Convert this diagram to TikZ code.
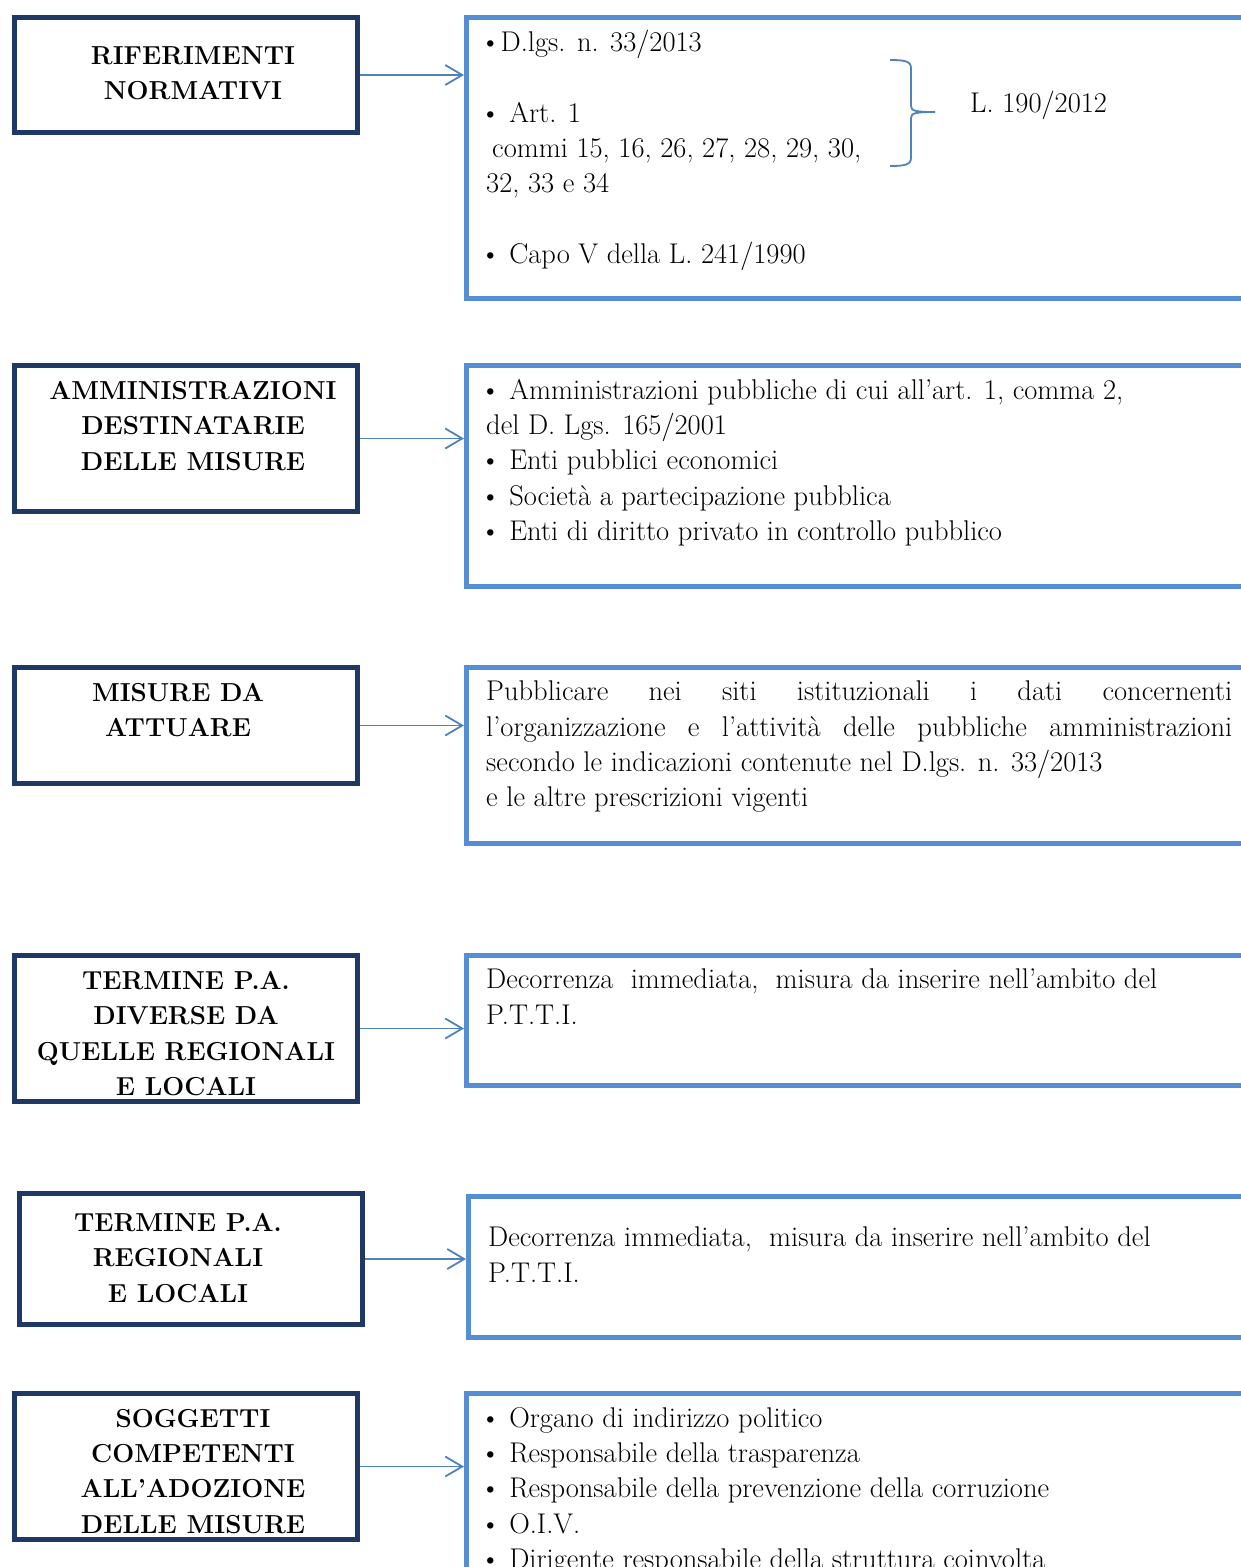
\documentclass[tikz,border=0pt]{standalone}
\usetikzlibrary{arrows.meta,positioning}
\definecolor{navyline}{HTML}{1F3864}
\definecolor{boxblue}{HTML}{558ED5}
\definecolor{linkblue}{HTML}{4F81BD}
\newcommand{\listdot}{\hspace{-6pt}\textbullet}
\begin{document}
\begin{tikzpicture}[x=1pt,y=-1pt,
leftbox/.style={draw=navyline,line width=5pt,anchor=north west,minimum width=343pt,inner sep=0pt},
rightbox/.style={draw=boxblue,line width=5pt,anchor=north west,minimum width=900pt,inner sep=0pt},
title/.style={font=\fontsize{26}{35.3}\selectfont\bfseries,align=center,anchor=north,inner sep=0pt},
body/.style={font=\fontsize{28.5}{35.3}\selectfont,align=left,anchor=north west,inner sep=0pt},
link/.style={draw=linkblue,line width=1.8pt,-{Straight Barb[length=17pt,width=20pt,line width=1.8pt]}}]
\useasboundingbox (0,0) rectangle (1241,1567);
\clip (0,0) rectangle (1241,1567);
\node[leftbox,minimum height=115pt] (l1) at (12,15) {};
\node[leftbox,minimum height=146pt] (l2) at (12,363) {};
\node[leftbox,minimum height=116pt] (l3) at (12,665) {};
\node[leftbox,minimum height=146pt] (l4) at (12,953) {};
\node[leftbox,minimum height=131pt] (l5) at (17,1191) {};
\node[leftbox,minimum height=146pt] (l6) at (12,1391) {};
\node[rightbox,minimum height=281pt] (r1) at (464,15) {};
\node[rightbox,minimum height=221pt] (r2) at (464,363) {};
\node[rightbox,minimum height=176pt] (r3) at (464,665) {};
\node[rightbox,minimum height=130pt] (r4) at (464,953) {};
\node[rightbox,minimum height=141pt] (r5) at (466,1194) {};
\node[rightbox,minimum height=224pt] (r6) at (464,1391) {};
\node[title] (h1) at (193,46) {RIFERIMENTI\\NORMATIVI};
\node[title] (h2) at (193,381) {AMMINISTRAZIONI\\DESTINATARIE\\DELLE MISURE};
\node[title] (h3) at (178,683) {MISURE DA\\ATTUARE};
\node[title] (h4) at (186,971) {TERMINE P.A.\\DIVERSE DA\\QUELLE REGIONALI\\E LOCALI};
\node[title] (h5) at (178,1213) {TERMINE P.A.\\REGIONALI\\E LOCALI};
\node[title] (h6) at (193,1409) {SOGGETTI\\COMPETENTI\\ALL’ADOZIONE\\DELLE MISURE};
\node[body] (t1) at (486,30) {\listdot D.lgs. n. 33/2013\\[35.3pt]
\listdot\ Art. 1\\ \hspace{6pt}commi 15, 16, 26, 27, 28, 29, 30,\\32, 33 e 34\\[35.3pt]
\listdot\ Capo V della L. 241/1990};
\node[body] (law) at (970,91) {L. 190/2012};
\node[body] (t2) at (486,379) {\listdot\ Amministrazioni pubbliche di cui all’art. 1, comma 2,\\del D. Lgs. 165/2001\\
\listdot\ Enti pubblici economici\\\listdot\ Società a partecipazione pubblica\\
\listdot\ Enti di diritto privato in controllo pubblico};
\node[body,align=justify,text width=746pt] (t3) at (486,681) {Pubblicare nei siti istituzionali i dati concernenti\linebreak
l’organizzazione e l’attività delle pubbliche amministrazioni\linebreak
secondo le indicazioni contenute nel D.lgs. n. 33/2013\\e le altre prescrizioni vigenti};
\node[body] (t4) at (486,969) {Decorrenza\ \ immediata,\ \ misura da inserire nell’ambito del\\P.T.T.I.};
\node[body] (t5) at (488,1227) {Decorrenza immediata,\ \ misura da inserire nell’ambito del\\P.T.T.I.};
\node[body] (t6) at (486,1407) {\listdot\ Organo di indirizzo politico\\\listdot\ Responsabile della trasparenza\\
\listdot\ Responsabile della prevenzione della corruzione\\\listdot\ O.I.V.\\
\listdot\ Dirigente responsabile della struttura coinvolta};
\coordinate (bt) at (890,60);
\coordinate (bb) at (890,166);
\coordinate (bm) at (935,112);
\draw[linkblue,line width=1.8pt] (bt) .. controls (904,60) and (911,61) .. (911,68) -- (911,106)
  .. controls (911,111) and (916,112) .. (bm) .. controls (916,112) and (911,113) .. (911,118)
  -- (911,158) .. controls (911,165) and (904,166) .. (bb);
\foreach \i in {1,...,6}
  \draw[link] (l\i.east) -- (l\i.east -| r\i.west);
\end{tikzpicture}
\end{document}
